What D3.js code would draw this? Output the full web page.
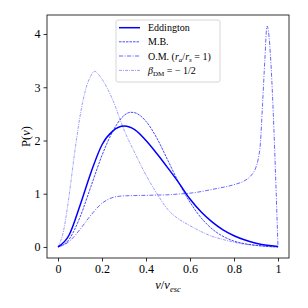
<!DOCTYPE html>
<html>
<head>
<meta charset="utf-8">
<script src="https://cdn.jsdelivr.net/npm/d3@7"></script>
<style>
  body { margin: 0; background: #fff; }
</style>
</head>
<body>
<svg id="chart" width="308" height="308"></svg>
<script>
// velocity grid (v / v_esc) and curves
let vEdd = [0, 0.05, 0.1, 0.15, 0.2, 0.25, 0.3, 0.35, 0.4, 0.45, 0.5, 0.55, 0.6, 0.65, 0.7, 0.75, 0.8, 0.85, 0.9, 0.95, 1];
let pEdd = [0, 0.22, 0.78, 1.4, 1.92, 2.18, 2.27, 2.2, 2.0, 1.75, 1.48, 1.2, 0.9, 0.66, 0.47, 0.32, 0.21, 0.13, 0.07, 0.03, 0.01];

let vMB = [0, 0.05, 0.1, 0.15, 0.2, 0.25, 0.3, 0.33, 0.35, 0.4, 0.45, 0.5, 0.55, 0.6, 0.65, 0.7, 0.75, 0.8, 0.85, 0.9, 0.95, 1];
let pMB = [0, 0.14, 0.56, 1.14, 1.72, 2.18, 2.47, 2.53, 2.52, 2.36, 2.04, 1.62, 1.2, 0.84, 0.55, 0.34, 0.2, 0.11, 0.06, 0.03, 0.01, 0];

let vOM = [0, 0.05, 0.1, 0.15, 0.2, 0.25, 0.3, 0.35, 0.4, 0.45, 0.5, 0.55, 0.6, 0.65, 0.7, 0.75, 0.8, 0.85, 0.875, 0.9, 0.91, 0.92, 0.93, 0.94, 0.95, 1];
let pOM = [0, 0.1, 0.33, 0.6, 0.82, 0.93, 0.96, 0.965, 0.97, 0.975, 0.98, 0.995, 1.01, 1.04, 1.08, 1.12, 1.17, 1.25, 1.33, 1.5, 1.65, 1.95, 2.7, 3.5, 4.15, 0];

let vBeta = [0, 0.025, 0.05, 0.075, 0.1, 0.125, 0.15, 0.165, 0.2, 0.25, 0.3, 0.35, 0.4, 0.45, 0.5, 0.55, 0.6, 0.65, 0.7, 0.75, 0.8, 0.85, 0.9, 0.95, 1];
let pBeta = [0, 0.3, 0.95, 1.75, 2.45, 2.95, 3.22, 3.3, 3.15, 2.75, 2.2, 1.76, 1.35, 1.0, 0.7, 0.52, 0.4, 0.29, 0.2, 0.14, 0.09, 0.05, 0.03, 0.01, 0];

let xTicks = [0, 0.2, 0.4, 0.6, 0.8, 1];
let xTickLabels = ["0", "0.2", "0.4", "0.6", "0.8", "1"];
let yTicks = [0, 1, 2, 3, 4];

let series = [
  {name: "Eddington", v: vEdd, p: pEdd, width: 1.5, dash: null, opacity: 1},
  {name: "M.B.", v: vMB, p: pMB, width: 0.8, dash: "2.5,1", opacity: 0.9},
  {name: "O.M.", v: vOM, p: pOM, width: 1, dash: "4,1.5,1,1.5", opacity: 0.6},
  {name: "beta", v: vBeta, p: pBeta, width: 0.7, dash: "3,1,1,1", opacity: 0.55}
];

const SERIF = '"Liberation Serif", "Times New Roman", serif';

let svg = d3.select("#chart").style("font-family", SERIF);
let mLeft = 47, mRight = 289, mTop = 15, mBottom = 258;

let x = d3.scaleLinear().domain([-0.05, 1.05]).range([mLeft, mRight]);
let y = d3.scaleLinear().domain([-0.2075, 4.3575]).range([mBottom, mTop]);

let line = d3.line()
  .x(d => x(d[0]))
  .y(d => y(d[1]))
  .curve(d3.curveMonotoneX);

let plot = svg.append("g");
series.forEach(s => {
  plot.append("path")
    .attr("d", line(s.v.map((v, i) => [v, s.p[i]])))
    .attr("fill", "none")
    .attr("stroke", "blue")
    .attr("stroke-width", s.width)
    .attr("stroke-opacity", s.opacity)
    .attr("stroke-dasharray", s.dash);
});

// axes
let xAxis = d3.axisBottom(x).tickValues(xTicks).tickFormat((d, i) => xTickLabels[i]).tickSize(3.5).tickPadding(3);
let yAxis = d3.axisLeft(y).tickValues(yTicks).tickFormat(d3.format("d")).tickSize(3.5).tickPadding(3);

svg.append("g").attr("transform", `translate(0,${mBottom})`).call(xAxis);
svg.append("g").attr("transform", `translate(${mLeft},0)`).call(yAxis);
svg.selectAll(".domain").remove();
svg.selectAll(".tick line").attr("stroke", "#000").attr("stroke-width", 0.8);
svg.selectAll(".tick text")
  .style("font-family", SERIF).style("font-size", "12px").attr("fill", "#000");

svg.append("rect")
  .attr("x", mLeft).attr("y", mTop)
  .attr("width", mRight - mLeft).attr("height", mBottom - mTop)
  .attr("fill", "none").attr("stroke", "#000").attr("stroke-width", 0.8);

// axis labels
let xl = svg.append("text")
  .attr("x", (mLeft + mRight) / 2).attr("y", 289)
  .attr("text-anchor", "middle")
  .style("font-family", SERIF).style("font-size", "12.5px");
xl.append("tspan").attr("font-style", "italic").text("v");
xl.append("tspan").text("/");
xl.append("tspan").attr("font-style", "italic").text("v");
xl.append("tspan").attr("font-style", "italic").style("font-size", "8.5px").attr("dy", 2.5).text("esc");

let yl = svg.append("text")
  .attr("transform", `translate(30,${(mTop + mBottom) / 2}) rotate(-90)`)
  .attr("text-anchor", "middle")
  .style("font-family", SERIF).style("font-size", "12.5px");
yl.append("tspan").text("P(");
yl.append("tspan").attr("font-style", "italic").text("v");
yl.append("tspan").text(")");

// legend
let lg = svg.append("g");
lg.append("rect")
  .attr("x", 116).attr("y", 20).attr("width", 104).attr("height", 62)
  .attr("rx", 2).attr("fill", "#fff").attr("fill-opacity", 0.8)
  .attr("stroke", "#ccc").attr("stroke-width", 0.8);

let rowY = [27.7, 41.8, 56, 70.4];
series.forEach((s, i) => {
  lg.append("line")
    .attr("x1", 119).attr("x2", 140)
    .attr("y1", rowY[i]).attr("y2", rowY[i])
    .attr("stroke", "blue")
    .attr("stroke-width", s.width)
    .attr("stroke-opacity", s.opacity)
    .attr("stroke-dasharray", s.dash);
});

function legText(i) {
  return lg.append("text").attr("x", 148).attr("y", rowY[i] + 3.6)
    .style("font-family", SERIF).style("font-size", "10px");
}
legText(0).text("Eddington");
legText(1).text("M.B.");
let t2 = legText(2);
t2.append("tspan").text("O.M. (");
t2.append("tspan").attr("font-style", "italic").text("r");
t2.append("tspan").attr("font-style", "italic").style("font-size", "7px").attr("dy", 2).text("a");
t2.append("tspan").attr("dy", -2).text("/");
t2.append("tspan").attr("font-style", "italic").text("r");
t2.append("tspan").attr("font-style", "italic").style("font-size", "7px").attr("dy", 2).text("s");
t2.append("tspan").attr("dy", -2).text(" = 1)");
let t3 = legText(3);
t3.append("tspan").attr("font-style", "italic").text("β");
t3.append("tspan").style("font-size", "7px").attr("dy", 2).text("DM");
t3.append("tspan").attr("dy", -2).text(" = − 1/2");
</script>
</body>
</html>
